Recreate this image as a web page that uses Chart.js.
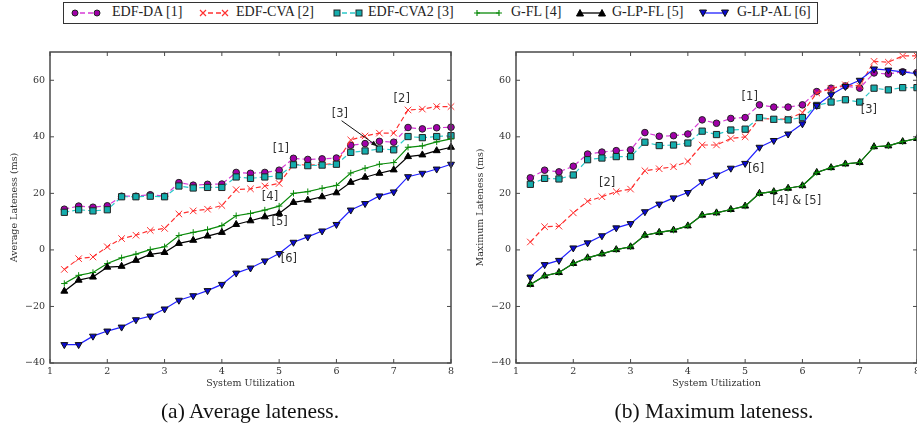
<!DOCTYPE html>
<html>
<head>
<meta charset="utf-8">
<script src="https://cdn.jsdelivr.net/npm/chart.js@4.4.1/dist/chart.umd.min.js"></script>
<style>
  html, body { margin: 0; padding: 0; background: #fff; width: 917px; height: 433px; overflow: hidden; position: relative; }
  canvas { position: absolute; top: 40px; }
  #avgChart { left: 0; }
  #maxChart { left: 466px; }
  .cap { position: absolute; top: 399px; width: 360px; text-align: center; font: 21.5px "Liberation Serif", serif; color: #111; }
  #legend { position: absolute; left: 63px; top: 2px; width: 755px; height: 22px; border: 1px solid #333; box-sizing: border-box; }
  #legend svg { position: absolute; top: 4px; }
  #legend span { position: absolute; top: 1px; font: 14px "Liberation Serif", serif; color: #222; white-space: nowrap; }
</style>
</head>
<body>
<div id="legend"></div>
<canvas id="avgChart" width="460" height="360"></canvas>
<canvas id="maxChart" width="460" height="360"></canvas>
<div class="cap" style="left:70px">(a) Average lateness.</div>
<div class="cap" style="left:534px">(b) Maximum lateness.</div>
<script>
// --- data ---
const utilization = [1.25, 1.5, 1.75, 2, 2.25, 2.5, 2.75, 3, 3.25, 3.5, 3.75, 4, 4.25, 4.5,
                     4.75, 5, 5.25, 5.5, 5.75, 6, 6.25, 6.5, 6.75, 7, 7.25, 7.5, 7.75, 8];
const seriesNames = ['EDF-DA [1]', 'EDF-CVA [2]', 'EDF-CVA2 [3]', 'G-FL [4]', 'G-LP-FL [5]', 'G-LP-AL [6]'];
const xTicks = [1, 2, 3, 4, 5, 6, 7, 8];
const yTicks = [-40, -20, 0, 20, 40, 60];

// (a) average lateness (ms)
const avgEdfDa   = [14.4, 15.5, 15.1, 15.6, 19.0, 19.0, 19.5, 19.0, 23.8, 22.9, 23.2, 23.3, 27.4, 27.1,
                    27.4, 28.2, 32.4, 32.0, 32.2, 32.5, 37.0, 37.6, 38.4, 38.1, 43.3, 42.8, 43.2, 43.4];
const avgEdfCva  = [-6.9, -3.1, -2.5, 1.1, 4.0, 5.2, 6.9, 7.6, 12.7, 13.8, 14.4, 15.7, 21.3, 21.6,
                    22.6, 23.5, 30.3, 30.0, 30.2, 30.6, 38.9, 40.3, 41.3, 41.3, 49.5, 49.8, 50.7, 50.7];
const avgEdfCva2 = [13.3, 14.2, 13.8, 14.2, 18.8, 18.8, 19.0, 18.8, 22.6, 21.9, 22.1, 22.1, 25.8, 25.3,
                    25.8, 26.2, 30.1, 29.8, 30.0, 30.3, 34.5, 35.0, 35.7, 35.4, 40.1, 39.7, 40.1, 40.4];
const avgGFl     = [-11.9, -9.0, -8.0, -4.8, -2.8, -1.5, 0.1, 1.1, 5.1, 6.2, 7.2, 8.6, 12.1, 12.9,
                    14.1, 15.5, 20.0, 20.6, 21.8, 22.8, 27.2, 28.9, 30.3, 30.9, 36.3, 36.8, 38.2, 39.3];
const avgGLpFl   = [-14.6, -10.7, -9.6, -6.1, -5.8, -3.7, -1.6, -0.9, 2.3, 3.4, 4.9, 6.2, 9.0, 10.3,
                    11.7, 12.9, 16.8, 17.6, 18.8, 20.2, 23.9, 25.7, 27.1, 28.3, 33.0, 33.6, 35.1, 36.3];
const avgGLpAl   = [-33.5, -33.5, -30.5, -28.7, -27.3, -24.7, -23.4, -20.9, -17.8, -16.2, -14.4, -12.2, -8.2, -6.4,
                    -3.9, -1.3, 2.7, 4.6, 6.7, 9.0, 14.1, 16.4, 19.1, 20.5, 25.9, 27.1, 28.6, 30.3];

// (b) maximum lateness (ms)
const maxEdfDa   = [25.5, 28.2, 27.6, 29.6, 33.9, 34.6, 35.1, 35.4, 41.5, 40.2, 40.4, 41.0, 46.0, 44.8,
                    46.5, 46.8, 51.3, 50.5, 50.5, 51.3, 56.0, 57.2, 58.0, 57.2, 62.6, 62.2, 63.0, 62.7];
const maxEdfCva  = [2.8, 8.2, 8.4, 13.1, 17.2, 18.8, 20.6, 21.5, 28.0, 28.7, 29.4, 31.3, 37.1, 37.1,
                    39.4, 40.0, 46.6, 46.2, 46.3, 48.5, 55.5, 57.0, 58.4, 58.0, 66.7, 66.4, 68.6, 68.6];
const maxEdfCva2 = [23.2, 25.3, 25.1, 26.5, 31.9, 32.5, 33.0, 33.0, 38.1, 36.9, 37.1, 37.8, 42.0, 40.8,
                    42.4, 42.7, 46.8, 46.2, 46.0, 46.8, 51.1, 52.3, 53.1, 52.3, 57.2, 56.6, 57.4, 57.4];
const maxGFl     = [-12.2, -9.2, -8.0, -4.8, -2.8, -1.4, 0.1, 1.1, 5.2, 6.2, 7.0, 8.5, 12.3, 13.1,
                    14.3, 15.5, 20.0, 20.6, 21.8, 22.7, 27.4, 29.1, 30.4, 30.9, 36.5, 36.8, 38.3, 39.4];
const maxGLpFl   = [-12.2, -9.2, -8.0, -4.8, -2.8, -1.4, 0.1, 1.1, 5.2, 6.2, 7.0, 8.5, 12.3, 13.1,
                    14.3, 15.5, 20.0, 20.6, 21.8, 22.7, 27.4, 29.1, 30.4, 30.9, 36.5, 36.8, 38.3, 39.4];
const maxGLpAl   = [-9.6, -5.2, -3.7, 0.7, 2.5, 5.0, 7.8, 9.3, 13.5, 16.2, 18.4, 20.3, 24.1, 26.5,
                    28.9, 30.6, 36.3, 38.7, 41.0, 44.6, 51.1, 54.9, 57.8, 60.0, 64.0, 63.6, 63.0, 62.3];

// in-plot labels (data coordinates)
const avgNotes = [
  { text: '[1]', x: 5.03, y: 35.7 }, { text: '[2]', x: 7.14, y: 53.4 }, { text: '[3]', x: 6.06, y: 48.1 },
  { text: '[4]', x: 4.84, y: 18.7 }, { text: '[5]', x: 5.01, y: 9.8 }, { text: '[6]', x: 5.17, y: -3.3 }
];
const avgArrows = [{ x1: 6.09, y1: 45.7, x2: 6.72, y2: 36.6 }];
const maxNotes = [
  { text: '[1]', x: 5.08, y: 54.1 }, { text: '[2]', x: 2.59, y: 23.6 }, { text: '[3]', x: 7.16, y: 49.5 },
  { text: '[6]', x: 5.19, y: 28.6 }, { text: '[4] & [5]', x: 5.90, y: 17.2 }
];

// --- styles ---
const styles = [
  { line: '#d63bd6', dash: [5, 3], point: 'circle',   r: 3.3, fill: '#a000a8', edge: '#222' },
  { line: '#ff3030', dash: [5, 3], point: 'crossRot', r: 4.6, fill: '#ff3030', edge: '#ff3030' },
  { line: '#2cc9c9', dash: [5, 3], point: 'rect',     r: 4.4, fill: '#14adad', edge: '#222' },
  { line: '#0a8a0a', dash: [],     point: 'cross',    r: 3.2, fill: '#0a8a0a', edge: '#0a8a0a' },
  { line: '#000000', dash: [],     point: 'triangle', r: 4.0, fill: '#000', edge: '#000' },
  { line: '#2020ff', dash: [],     point: 'triangle', r: 4.0, fill: '#0a0ad0', edge: '#111', rot: 180 }
];
const legendIconX = [7, 135, 269, 409, 512, 635];
const legendTextX = [48, 172, 304, 447, 548, 673];

function toPoints(values) {
  return values.map((v, i) => ({ x: utilization[i], y: v }));
}

function buildDatasets(seriesList, orderFix) {
  return seriesList.map((vals, i) => {
    const s = styles[i];
    return {
      label: seriesNames[i],
      data: toPoints(vals),
      borderColor: s.line,
      borderWidth: 1.2,
      borderDash: s.dash,
      pointStyle: s.point,
      pointRadius: s.r,
      pointRotation: s.rot || 0,
      pointBackgroundColor: s.fill,
      pointBorderColor: s.edge,
      pointBorderWidth: 1,
      fill: false,
      tension: 0,
      clip: false,
      order: (orderFix && orderFix[i] != null) ? orderFix[i] : 6 - i
    };
  });
}

const framePlugin = {
  id: 'frame',
  afterDraw(chart, args, opts) {
    const { ctx, chartArea: a } = chart;
    const x = chart.scales.x, y = chart.scales.y;
    const seg = (x1, y1, x2, y2) => { ctx.beginPath(); ctx.moveTo(x1, y1); ctx.lineTo(x2, y2); ctx.stroke(); };
    ctx.save();
    ctx.strokeStyle = '#4a4a4a';
    ctx.lineWidth = 1;
    xTicks.forEach(v => {
      const px = x.getPixelForValue(v);
      seg(px, a.bottom, px, a.bottom - 4);
      seg(px, a.top, px, a.top + 4);
    });
    yTicks.forEach(v => {
      const py = y.getPixelForValue(v);
      seg(a.left, py, a.left + 4, py);
      seg(a.right, py, a.right - 4, py);
    });
    ctx.lineWidth = 1.5;
    ctx.strokeRect(a.left, a.top, a.right - a.left, a.bottom - a.top);

    ctx.fillStyle = '#333';
    ctx.font = '11.5px "DejaVu Sans", sans-serif';
    ctx.textAlign = 'center';
    ctx.textBaseline = 'middle';
    (opts.notes || []).forEach(n => {
      ctx.fillText(n.text, x.getPixelForValue(n.x), y.getPixelForValue(n.y));
    });
    ctx.strokeStyle = '#111';
    ctx.fillStyle = '#111';
    ctx.lineWidth = 1;
    (opts.arrows || []).forEach(ar => {
      const x1 = x.getPixelForValue(ar.x1), y1 = y.getPixelForValue(ar.y1);
      const x2 = x.getPixelForValue(ar.x2), y2 = y.getPixelForValue(ar.y2);
      seg(x1, y1, x2, y2);
      const ang = Math.atan2(y2 - y1, x2 - x1);
      ctx.beginPath();
      ctx.moveTo(x2, y2);
      ctx.lineTo(x2 - 7 * Math.cos(ang - 0.35), y2 - 7 * Math.sin(ang - 0.35));
      ctx.lineTo(x2 - 7 * Math.cos(ang + 0.35), y2 - 7 * Math.sin(ang + 0.35));
      ctx.closePath();
      ctx.fill();
    });
    ctx.restore();
  }
};

const tickFont = { family: 'DejaVu Serif', size: 9.5 };

function makeChart(id, seriesList, yTitle, notes, arrows, orderFix) {
  return new Chart(document.getElementById(id), {
    type: 'line',
    data: { datasets: buildDatasets(seriesList, orderFix) },
    options: {
      responsive: false,
      animation: false,
      devicePixelRatio: 1,
      layout: { padding: { left: 0, right: 9, top: 12, bottom: 0 } },
      plugins: {
        legend: { display: false },
        tooltip: { enabled: false },
        frame: { notes: notes, arrows: arrows }
      },
      scales: {
        x: {
          type: 'linear', min: 1, max: 8,
          grid: { display: false, drawTicks: false },
          border: { display: false },
          ticks: { stepSize: 1, padding: 3, color: '#333', font: tickFont, maxRotation: 0 },
          title: { display: true, text: 'System Utilization', color: '#333', font: tickFont,
                   padding: { top: 0, bottom: 11 } },
          afterFit: s => { s.height = 37; }
        },
        y: {
          type: 'linear', min: -40, max: 70,
          grid: { display: false, drawTicks: false },
          border: { display: false },
          ticks: { stepSize: 20, includeBounds: false, padding: 5, color: '#333', font: tickFont,
                   callback: v => (v < 0 ? '\u2212' + (-v) : String(v)) },
          title: { display: true, text: yTitle, color: '#333', font: tickFont,
                   padding: { top: 9, bottom: 0 } },
          afterFit: s => { s.width = 50; }
        }
      }
    },
    plugins: [framePlugin]
  });
}

makeChart('avgChart', [avgEdfDa, avgEdfCva, avgEdfCva2, avgGFl, avgGLpFl, avgGLpAl],
          'Average Lateness (ms)', avgNotes, avgArrows);
makeChart('maxChart', [maxEdfDa, maxEdfCva, maxEdfCva2, maxGFl, maxGLpFl, maxGLpAl],
          'Maximum Lateness (ms)', maxNotes, [], { 3: 1.5 });

// --- legend spanning both panels ---
function markerSvg(s, cx, cy) {
  const r = 3;
  if (s.point === 'circle') return `<circle cx="${cx}" cy="${cy}" r="${r}" fill="${s.fill}" stroke="${s.edge}" stroke-width="1"/>`;
  if (s.point === 'rect') return `<rect x="${cx - r}" y="${cy - r}" width="${2 * r}" height="${2 * r}" fill="${s.fill}" stroke="${s.edge}" stroke-width="1"/>`;
  if (s.point === 'crossRot') return `<path d="M${cx - r} ${cy - r}L${cx + r} ${cy + r}M${cx - r} ${cy + r}L${cx + r} ${cy - r}" stroke="${s.edge}" stroke-width="1.2"/>`;
  if (s.point === 'cross') return `<path d="M${cx - r} ${cy}L${cx + r} ${cy}M${cx} ${cy - r}L${cx} ${cy + r}" stroke="${s.edge}" stroke-width="1.2"/>`;
  const d = s.rot ? 1 : -1;
  return `<polygon points="${cx - 3.5},${cy - d * 3} ${cx + 3.5},${cy - d * 3} ${cx},${cy + d * 3.5}" fill="${s.fill}" stroke="${s.edge}" stroke-width="1"/>`;
}
const legend = document.getElementById('legend');
seriesNames.forEach((name, i) => {
  const s = styles[i];
  const dash = s.dash.length ? `stroke-dasharray="${s.dash.join(',')}"` : '';
  const lineX1 = s.dash.length ? 9 : 4;
  const lineX2 = s.dash.length ? 22 : 26;
  const svg = `<svg width="32" height="12" style="left:${legendIconX[i]}px">` +
    `<line x1="${lineX1}" y1="6" x2="${lineX2}" y2="6" stroke="${s.line}" stroke-width="1.3" ${dash}/>` +
    markerSvg(s, 4, 6) + markerSvg(s, 26, 6) + `</svg>`;
  legend.insertAdjacentHTML('beforeend', svg + `<span style="left:${legendTextX[i]}px">${name}</span>`);
});
</script>
</body>
</html>
